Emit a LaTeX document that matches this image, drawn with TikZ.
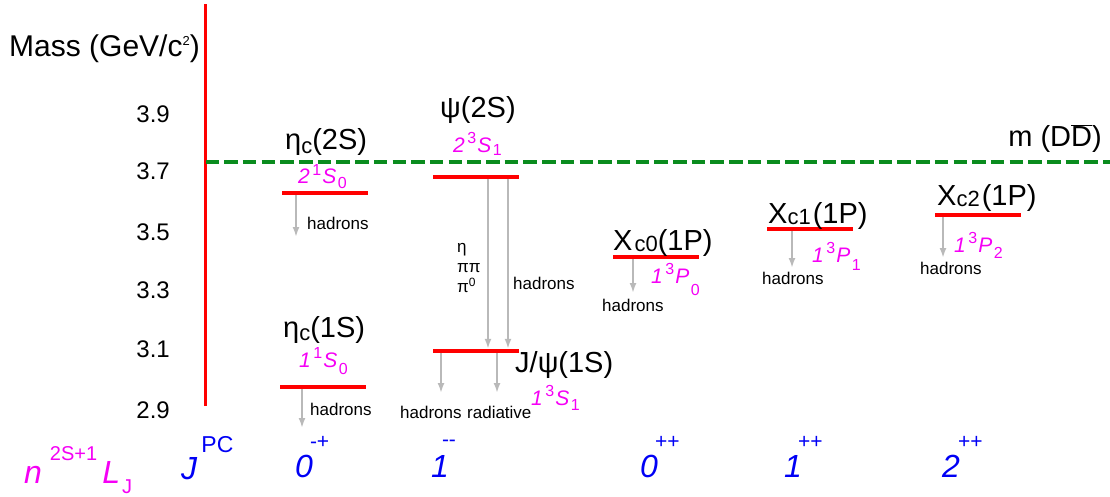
\documentclass[tikz,border=0pt]{standalone}
\usepackage{fontspec}
\setmainfont{Liberation Sans}
\usepackage{xcolor}
\usetikzlibrary{arrows.meta}

\definecolor{levelred}{RGB}{255,0,0}
\definecolor{ddgreen}{RGB}{10,140,30}
\definecolor{specmag}{RGB}{245,0,245}
\definecolor{jpcblue}{RGB}{0,0,245}
\definecolor{decaygray}{RGB}{185,185,185}

% raised or lowered small text: shift, size, text
\newcommand{\upscr}[3]{\raisebox{#1}{\fontsize{#2}{#2}\selectfont #3}}
% spectroscopic label n^{2S+1}L_J
\newcommand{\spec}[5][-4pt]{\textit{#2}\kern2.5pt\upscr{9pt}{16}{#3}\kern1pt\textit{#4}\kern1.5pt\upscr{#5}{16}{#1}}

\begin{document}
\begin{tikzpicture}[x=1pt, y=-1pt, every node/.style={inner sep=0pt},
    level/.style={fill=levelred, minimum width=86pt, minimum height=4pt, inner sep=0pt},
    decay/.style={draw=decaygray, line width=2pt, -{Latex[length=10pt,width=7pt]}},
    state/.style={font=\fontsize{29}{30}\selectfont},
    spec/.style={text=specmag, font=\fontsize{21}{22}\selectfont},
    decaylbl/.style={font=\fontsize{17}{18}\selectfont},
    tick/.style={anchor=base east, font=\fontsize{24}{26}\selectfont},
    jpc/.style={text=jpcblue, font=\fontsize{32}{34}\selectfont}]
        \useasboundingbox (0,0) rectangle (1110,497);

        % Axis and threshold
        \coordinate (ax0) at (205.5,406);
        \coordinate (ax1) at (205.5,4);
        \coordinate (dd) at (1110,162);
        \draw[levelred, line width=3.3pt] (ax0) -- (ax1);
        \draw[ddgreen, line width=4pt, dash pattern=on 13.5pt off 5.2pt] (ax1 |- dd) -- (dd);
        \node[anchor=base east, font=\fontsize{29}{30}\selectfont] (ddlbl) at (1102,147) {m (D\mbox{$\overline{\hbox{D}}$})};

        \node[anchor=base west, font=\fontsize{30}{32}\selectfont] (mass) at (9,57) {Mass (GeV/c\upscr{11pt}{13}{2})};
        \node[tick] (t39) at (170,123) {3.9};
        \node[tick] (t37) at (170,180) {3.7};
        \node[tick] (t35) at (170,240) {3.5};
        \node[tick] (t33) at (170,298) {3.3};
        \node[tick] (t31) at (170,357) {3.1};
        \node[tick] (t29) at (170,418) {2.9};

        % Levels
        \node[level] (etac2S) at (325,193) {};
        \node[level] (psi2S) at (476,177) {};
        \node[level] (jpsi) at (476,351) {};
        \node[level] (etac1S) at (322.5,387) {};
        \node[level] (chic0) at (655.5,257) {};
        \node[level] (chic1) at (810,229) {};
        \node[level] (chic2) at (978,215) {};

        % State names
        \node[state, anchor=base west] (etac2Slbl) at (285,150) {η\upscr{-3pt}{22}{c}(2S)};
        \node[state, anchor=base west] (psi2Slbl) at (440,118) {ψ(2S)};
        \node[state, anchor=base west] (jpsilbl) at (515,372) {J/ψ(1S)};
        \node[state, anchor=base west] (etac1Slbl) at (283,337) {η\upscr{-3pt}{22}{c}(1S)};
        \node[state, anchor=base west] (chic0lbl) at (613,250) {X\kern2pt\upscr{-1pt}{22}{c0}(1P)};
        \node[state, anchor=base west] (chic1lbl) at (768,223) {X\upscr{-1pt}{22}{c1}\kern2pt(1P)};
        \node[state, anchor=base west] (chic2lbl) at (937,205) {X\upscr{-1pt}{22}{c2}\kern2pt(1P)};

        \node[spec, anchor=base west] (etac2Sspec) at (298,184) {\spec[0]{2}{1}{S}{-5pt}};
        \node[spec, anchor=base west] (psi2Sspec) at (453,153) {\spec[1]{2}{3}{S}{-3pt}};
        \node[spec, anchor=base west] (jpsispec) at (531,405) {\spec[1]{1}{3}{S}{-5pt}};
        \node[spec, anchor=base west] (etac1Sspec) at (299,367) {\spec[0]{1}{1}{S}{-7pt}};
        \node[spec, anchor=base west] (chic0spec) at (651,283) {\spec[0]{1}{3}{P}{-12pt}};
        \node[spec, anchor=base west] (chic1spec) at (812,262) {\spec[1]{1}{3}{P}{-8pt}};
        \node[spec, anchor=base west] (chic2spec) at (954,252) {\spec[2]{1}{3}{P}{-6pt}};

        % Decays
        \coordinate (e2h) at (296,237);
        \coordinate (e1h) at (302,428);
        \coordinate (pst1) at (488,0);
        \coordinate (pst2) at (508,0);
        \coordinate (jph) at (441,393);
        \coordinate (jpr) at (497,393);
        \coordinate (c0h) at (633,293);
        \coordinate (c1h) at (792,268);
        \coordinate (c2h) at (943,258);
        \draw[decay] (e2h |- etac2S.south) -- (e2h);
        \draw[decay] (e1h |- etac1S.south) -- (e1h);
        \draw[decay] (pst1 |- psi2S.south) -- (pst1 |- jpsi.north);
        \draw[decay] (pst2 |- psi2S.south) -- (pst2 |- jpsi.north);
        \draw[decay] (jph |- jpsi.south) -- (jph);
        \draw[decay] (jpr |- jpsi.south) -- (jpr);
        \draw[decay] (c0h |- chic0.south) -- (c0h);
        \draw[decay] (c1h |- chic1.south) -- (c1h);
        \draw[decay] (c2h |- chic2.south) -- (c2h);

        \node[decaylbl, anchor=base west] (e2hlbl) at (307,229) {hadrons};
        \node[decaylbl, anchor=base west] (e1hlbl) at (310,415) {hadrons};
        \node[decaylbl, anchor=base west] (eta) at (457,252) {η};
        \node[decaylbl, anchor=base west] (pipi) at (457,272) {ππ};
        \node[decaylbl, anchor=base west] (pi0) at (457,292) {π\upscr{6pt}{12}{0}};
        \node[decaylbl, anchor=base west] (psihlbl) at (513,289) {hadrons};
        \node[decaylbl, anchor=base west] (jphlbl) at (400,418) {hadrons};
        \node[decaylbl, anchor=base west] (jprlbl) at (467,418) {radiative};
        \node[decaylbl, anchor=base west] (c0hlbl) at (602,311) {hadrons};
        \node[decaylbl, anchor=base west] (c1hlbl) at (762,284) {hadrons};
        \node[decaylbl, anchor=base west] (c2hlbl) at (920,274) {hadrons};

        % Quantum numbers
        \node[jpc, text=specmag, anchor=base west] (nlj) at (24,483) {\textit{n}\kern8pt\upscr{23pt}{20}{2S+1}\kern5pt\textit{L}\kern2pt\upscr{-10pt}{20}{J}};
        \node[jpc, anchor=base west] (jpclbl) at (181,479) {\textit{J}\kern4pt\upscr{27pt}{23}{PC}};
        \node[jpc, anchor=base west] (q0mp) at (295,477) {\textit{0}\kern-3pt\upscr{29pt}{21}{-+}};
        \node[jpc, anchor=base west] (q1mm) at (431,477) {\textit{1}\kern-7pt\upscr{31pt}{21}{-{}-}};
        \node[jpc, anchor=base west] (q0pp) at (640,477) {\textit{0}\kern-3pt\upscr{29pt}{21}{++}};
        \node[jpc, anchor=base west] (q1pp) at (784,477) {\textit{1}\kern-4pt\upscr{29pt}{21}{++}};
        \node[jpc, anchor=base west] (q2pp) at (942,477) {\textit{2}\kern-2pt\upscr{29pt}{21}{++}};
    \end{tikzpicture}
\end{document}
